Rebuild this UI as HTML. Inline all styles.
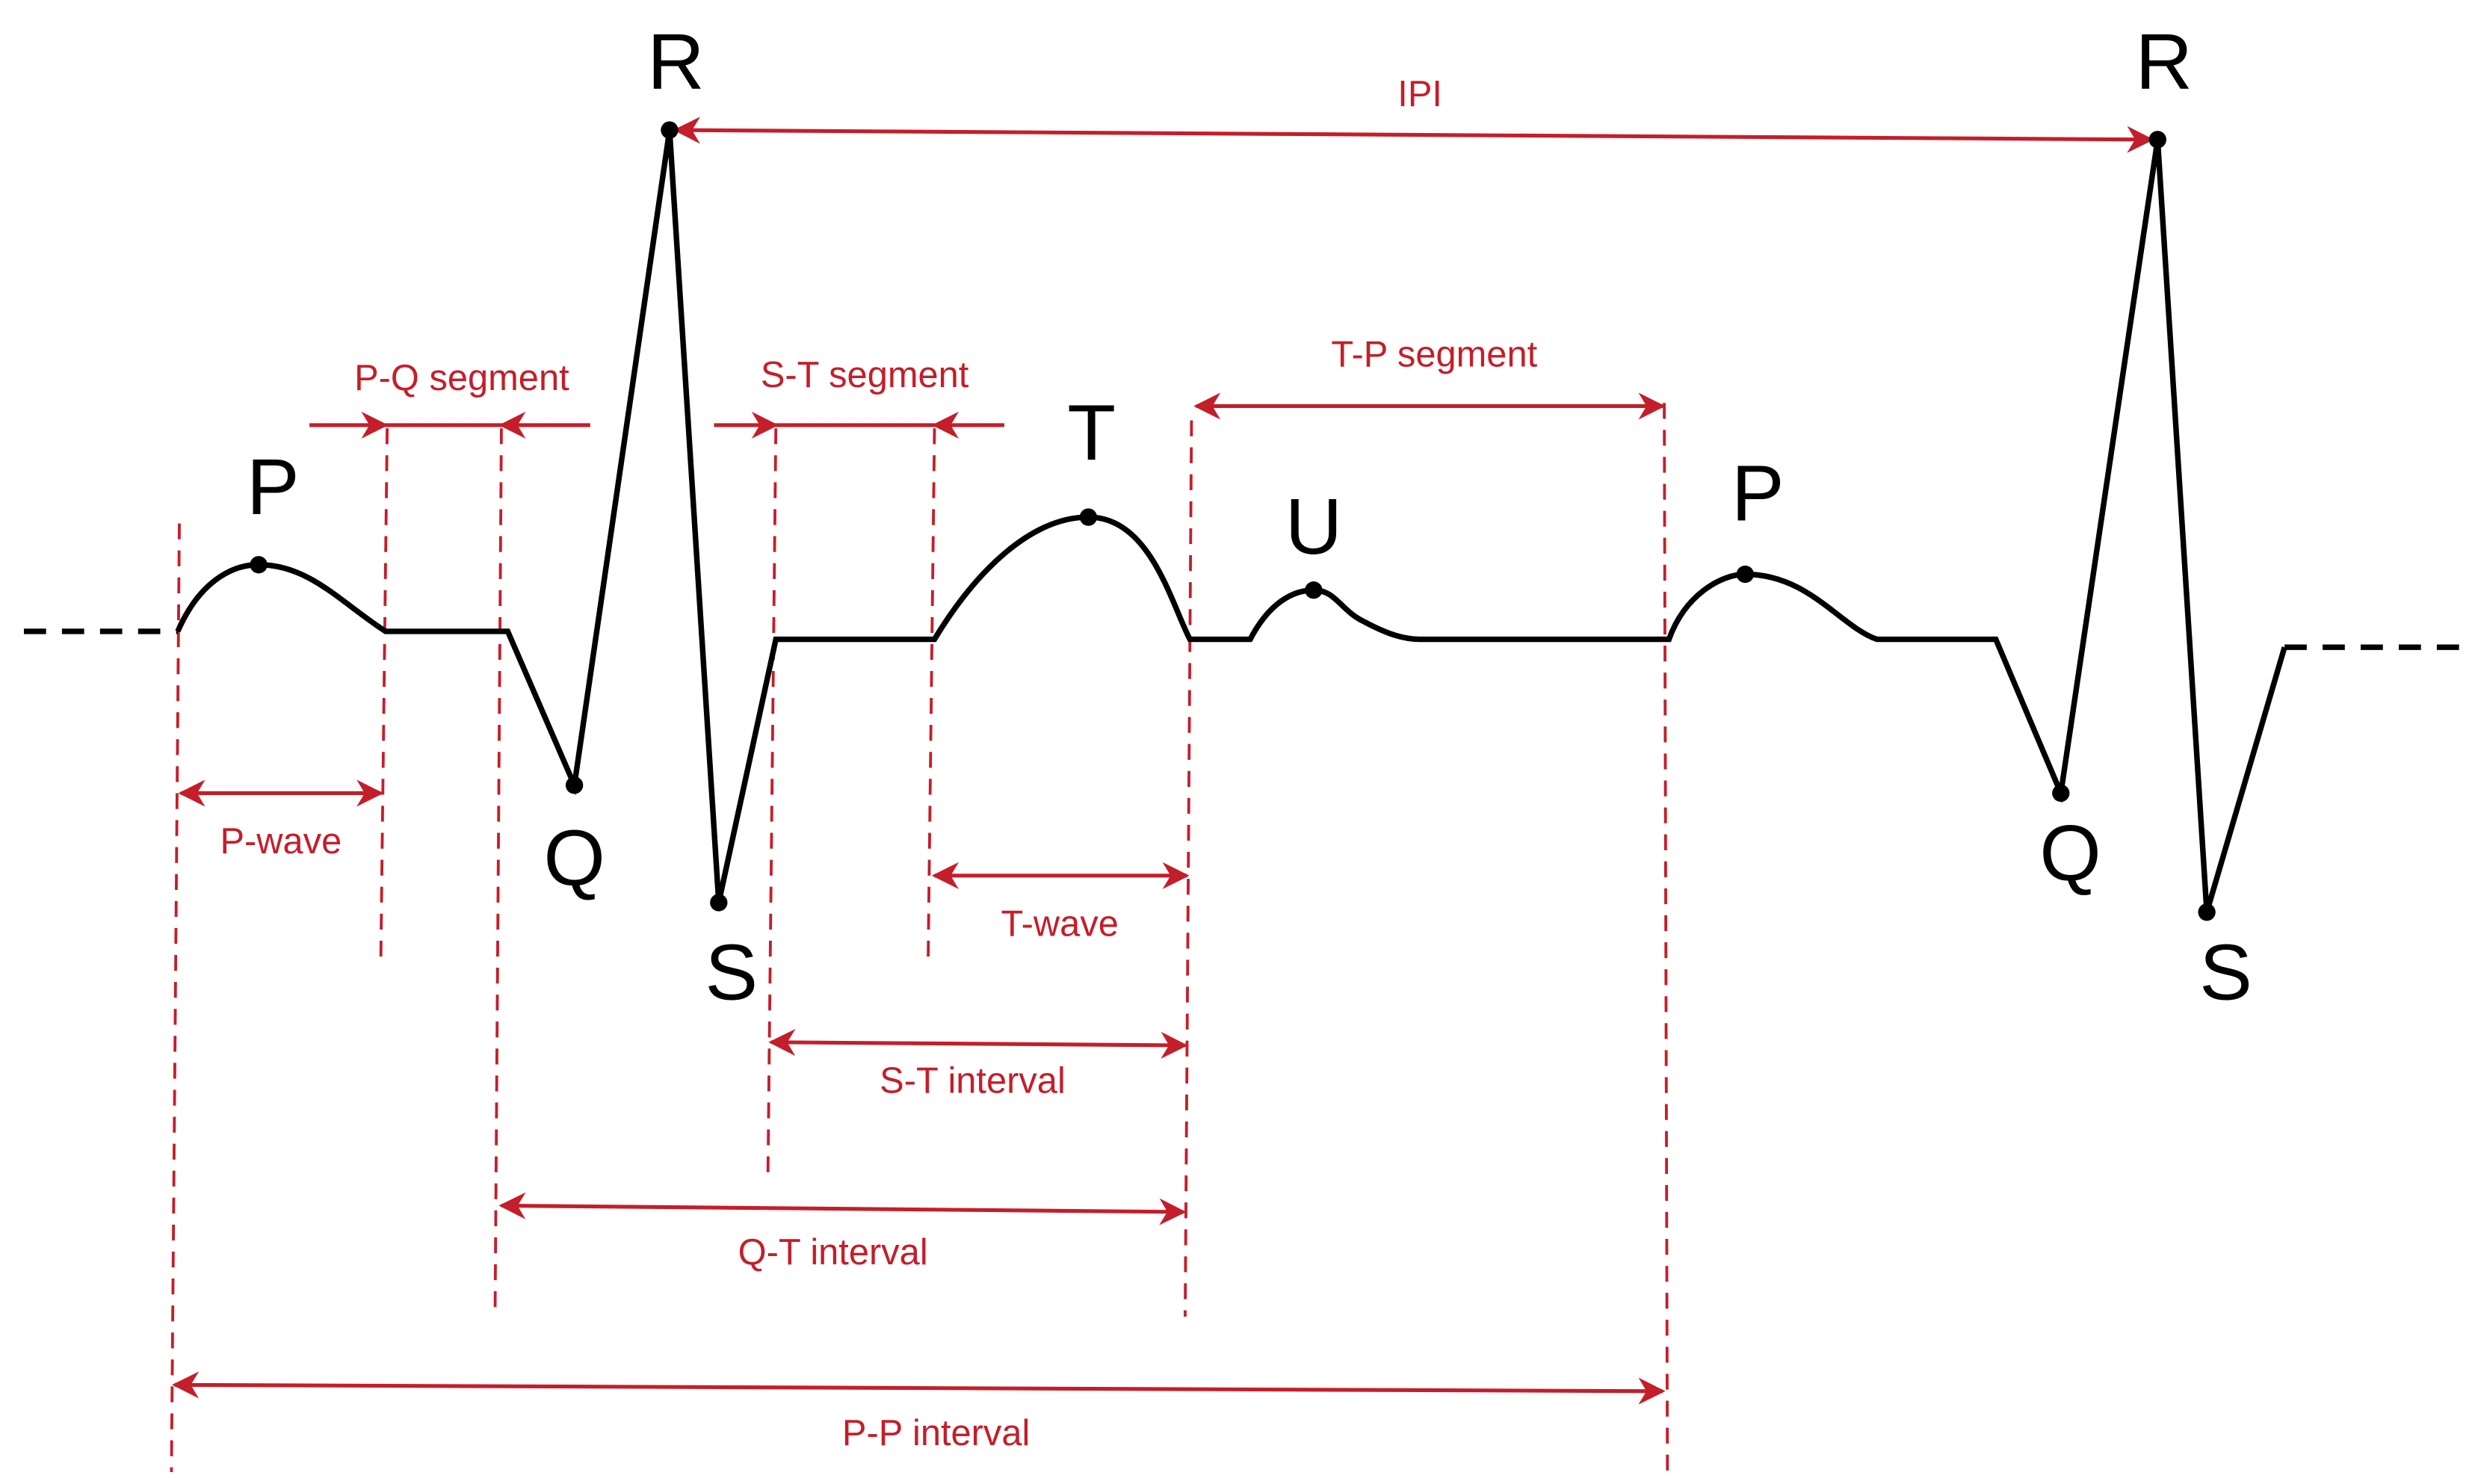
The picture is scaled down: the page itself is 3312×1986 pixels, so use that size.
<!DOCTYPE html>
<html><head><meta charset="utf-8"><style>html,body{margin:0;padding:0;background:#fff}svg{display:block}</style></head>
<body>
<svg width="3312" height="1986" viewBox="0 0 1560 935.5" xmlns="http://www.w3.org/2000/svg">
<defs>
<marker id="a" viewBox="0 0 20 20" refX="18" refY="10" markerWidth="17" markerHeight="17" markerUnits="userSpaceOnUse" orient="auto-start-reverse">
<path d="M0,0 L20,10 L0,20 L6,10 Z" fill="#c41e2a"/>
</marker>
</defs>
<g stroke="#c41e2a" stroke-width="1.8" stroke-dasharray="10,7" fill="none">
<line x1="113" y1="330" x2="108" y2="928"/>
<line x1="244" y1="270" x2="240" y2="605"/>
<line x1="316" y1="270" x2="312" y2="830"/>
<line x1="489" y1="270" x2="484" y2="742"/>
<line x1="589" y1="270" x2="585" y2="605"/>
<line x1="751" y1="265" x2="747" y2="830"/>
<line x1="1049" y1="254" x2="1051" y2="928"/>
</g>
<g stroke="#c41e2a" stroke-width="2.4" fill="none">
<line x1="426" y1="82" x2="1356" y2="88" marker-start="url(#a)" marker-end="url(#a)"/>
<line x1="195" y1="268" x2="243" y2="268" marker-end="url(#a)"/>
<line x1="243" y1="268" x2="316" y2="268"/>
<line x1="372" y1="268" x2="316" y2="268" marker-end="url(#a)"/>
<line x1="450" y1="268" x2="489" y2="268" marker-end="url(#a)"/>
<line x1="489" y1="268" x2="589" y2="268"/>
<line x1="633" y1="268" x2="589" y2="268" marker-end="url(#a)"/>
<line x1="754" y1="256" x2="1048" y2="256" marker-start="url(#a)" marker-end="url(#a)"/>
<line x1="114" y1="500" x2="240" y2="500" marker-start="url(#a)" marker-end="url(#a)"/>
<line x1="589" y1="552" x2="748" y2="552" marker-start="url(#a)" marker-end="url(#a)"/>
<line x1="486" y1="657" x2="747" y2="659" marker-start="url(#a)" marker-end="url(#a)"/>
<line x1="316" y1="760" x2="746" y2="764" marker-start="url(#a)" marker-end="url(#a)"/>
<line x1="110" y1="873" x2="1048" y2="877" marker-start="url(#a)" marker-end="url(#a)"/>
</g>
<g fill="#c41e2a" font-family="Liberation Sans, sans-serif" font-size="23" text-anchor="middle">
<text x="895" y="67">IPI</text>
<text x="291" y="246">P-Q segment</text>
<text x="545" y="244">S-T segment</text>
<text x="904" y="231">T-P segment</text>
<text x="177" y="538">P-wave</text>
<text x="668" y="590">T-wave</text>
<text x="613" y="689">S-T interval</text>
<text x="525" y="797">Q-T interval</text>
<text x="590" y="911">P-P interval</text>
</g>
<g stroke="#000" stroke-width="3.5" fill="none" stroke-linejoin="miter">
<line x1="15" y1="398" x2="112" y2="398" stroke-dasharray="14,10"/>
<line x1="1440" y1="408" x2="1558" y2="408" stroke-dasharray="14,10"/>
<path d="M112,398 C125,368 145,356 163,356 C195,356 215,380 243,398 L320,398 L362,495 L422,82 L453,569 L489,403 L589,403 C615,360 650,326 686,326 C725,326 738,380 750,403 L788,403 C800,380 815,372 828,372 C842,372 845,385 860,392 C875,400 885,403 895,403 L1052,403 C1062,375 1085,362 1100,362 C1140,362 1160,395 1183,403 L1258,403 L1299,500 L1360,88 L1391,575 L1440,408"/>
</g>
<g fill="#000">
<circle cx="163" cy="356" r="5.5"/><circle cx="362" cy="495" r="5.5"/><circle cx="422" cy="82" r="5.5"/>
<circle cx="453" cy="569" r="5.5"/><circle cx="686" cy="326" r="5.5"/><circle cx="828" cy="372" r="5.5"/>
<circle cx="1100" cy="362" r="5.5"/><circle cx="1299" cy="500" r="5.5"/><circle cx="1360" cy="88" r="5.5"/><circle cx="1391" cy="575" r="5.5"/>
</g>
<g fill="#000" font-family="Liberation Sans, sans-serif" font-size="50" text-anchor="middle">
<text x="426" y="56">R</text><text x="1364" y="56">R</text>
<text x="172" y="324">P</text><text x="1108" y="328">P</text>
<text x="362" y="558">Q</text><text x="1305" y="555">Q</text>
<text x="461" y="630">S</text><text x="1403" y="630">S</text>
<text x="688" y="290">T</text><text x="828" y="349">U</text>
</g>
</svg>
</body></html>
